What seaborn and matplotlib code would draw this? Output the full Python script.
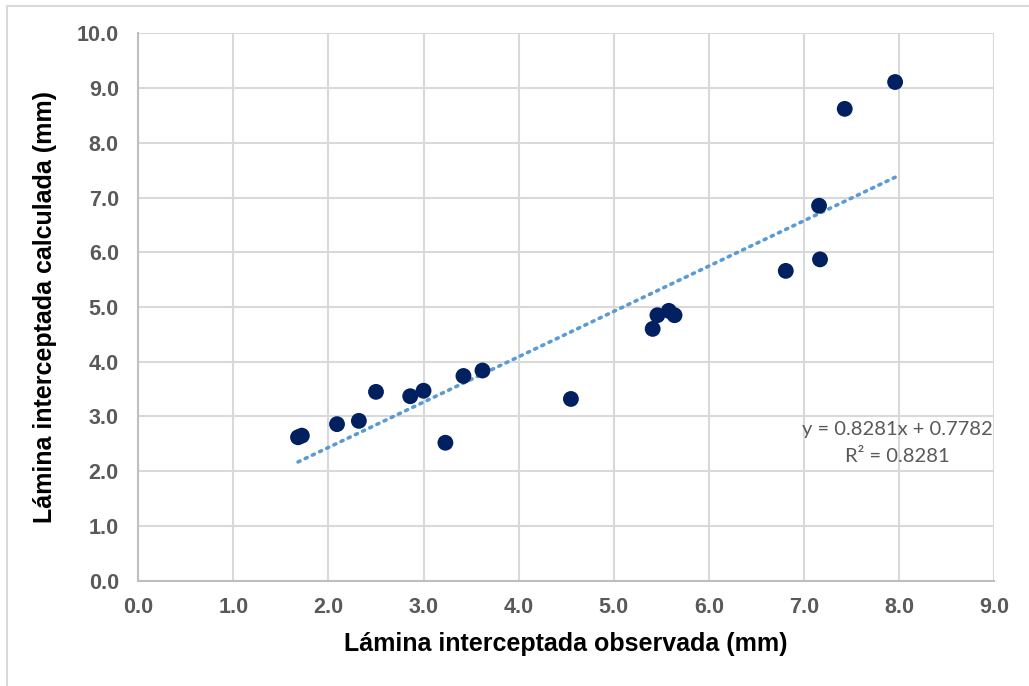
import matplotlib
matplotlib.use("Agg")
import matplotlib.pyplot as plt
import seaborn as sns
import numpy as np
import pandas as pd
from matplotlib.patches import Rectangle

# Data
observada = [1.68, 1.72, 2.09, 2.32, 2.50, 2.86, 3.00, 3.23, 3.42, 3.62, 4.55,
             5.41, 5.46, 5.58, 5.64, 6.81, 7.17, 7.16, 7.43, 7.96]
calculada = [2.62, 2.65, 2.86, 2.92, 3.45, 3.37, 3.47, 2.52, 3.74, 3.84, 3.32,
             4.60, 4.85, 4.93, 4.85, 5.66, 5.87, 6.85, 8.62, 9.11]
slope = 0.8281
intercept = 0.7782
r2 = 0.8281
x_ticks = [0.0, 1.0, 2.0, 3.0, 4.0, 5.0, 6.0, 7.0, 8.0, 9.0]
y_ticks = [0.0, 1.0, 2.0, 3.0, 4.0, 5.0, 6.0, 7.0, 8.0, 9.0, 10.0]

df = pd.DataFrame({"obs": observada, "calc": calculada})

sns.set_theme(style="white")
plt.rcParams['font.family'] = ['Liberation Sans', 'DejaVu Sans']

fig = plt.figure(figsize=(10.29, 6.86), dpi=100)
ax = fig.add_axes([138.3/1029, (686-580.7)/686, (994-138.3)/1029, (580.7-33.3)/686])

# figure border
fig.patches.append(Rectangle((7/1029, -0.05), 1.1, (686-5.5)/686 + 0.05,
                             transform=fig.transFigure, fill=False,
                             edgecolor="#D9D9D9", linewidth=1.5))

# trendline
xs = np.array([min(observada), max(observada)])
ax.plot(xs, slope*xs + intercept, linestyle=(0, (0.6, 1.6)), color="#5B9BD5",
        linewidth=2.6, dash_capstyle="round", zorder=3)

sns.scatterplot(data=df, x="obs", y="calc", ax=ax, color="#002060", s=130,
                edgecolor="none", zorder=4, legend=False)

ax.set_xlim(0, 9)
ax.set_ylim(0, 10)
ax.set_xticks(x_ticks)
ax.set_yticks(y_ticks)
ax.set_xticklabels([f"{v:.1f}" for v in x_ticks], fontsize=15.5, fontweight="bold", color="#595959")
ax.set_yticklabels([f"{v:.1f}" for v in y_ticks], fontsize=15.5, fontweight="bold", color="#595959")
ax.tick_params(axis="x", length=0, pad=12)
ax.tick_params(axis="y", length=0, pad=14)

ax.grid(True, color="#D9D9D9", linewidth=1.5)
ax.set_axisbelow(True)
for s in ["top", "right"]:
    ax.spines[s].set_visible(False)
for s in ["left", "bottom"]:
    ax.spines[s].set_color("#BFBFBF")
    ax.spines[s].set_linewidth(1.5)
    ax.spines[s].set_zorder(2)

ax.set_xlabel("Lámina interceptada observada (mm)", fontsize=18, fontweight="bold",
              color="black", labelpad=10)
ax.set_ylabel("Lámina interceptada calculada (mm)", fontsize=18, fontweight="bold",
              color="black", labelpad=14)

ax.text(7.98, 2.52, f"y = {slope:.4f}x + {intercept:.4f}\nR² = {r2:.4f}",
        ha="center", va="center", fontsize=14.5, color="#595959",
        family=["Lato", "DejaVu Sans"], linespacing=1.75, zorder=5)

fig.savefig("out.png", dpi=100)
